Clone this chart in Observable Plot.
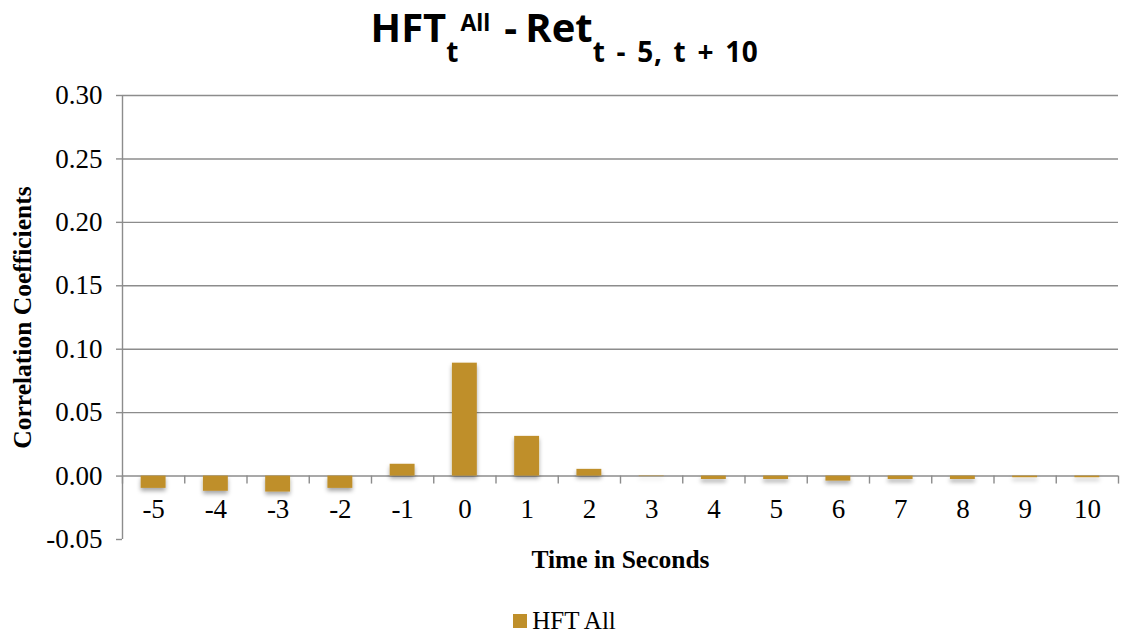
<!DOCTYPE html>
<html>
<head>
<meta charset="utf-8">
<script src="https://cdn.jsdelivr.net/npm/d3@7"></script>
<script src="https://cdn.jsdelivr.net/npm/@observablehq/plot@0.6"></script>
<style>
  html, body { margin: 0; padding: 0; background: #fff; }
  #wrap { width: 1121px; height: 644px; position: relative; overflow: hidden; }
  #title { height: 70px; display: flex; align-items: center; justify-content: center;
    font-family: "Open Sans", sans-serif; font-weight: 700; font-size: 40px; color: #000;
    padding-left: 8px; box-sizing: border-box; line-height: 1; }
  #title .t { position: relative; top: -8px; }
  #title .dash { margin: 0 8px 0 14px; }
  #title sub, #title sup { line-height: 0; position: relative; vertical-align: baseline; }
  #title sub { font-size: 28px; top: 20px; }
  #title sup { font-size: 23px; top: -11px; margin-left: 2px; }
  #title sub.long { word-spacing: 0.12em; letter-spacing: 0.02em; }
  #legend { display: flex; align-items: center; justify-content: center; height: 54px;
    font-family: "Liberation Serif", serif; font-size: 25px; color: #000; padding-left: 8px; padding-top: 8px; box-sizing: border-box; }
  #legend .sw { width: 14px; height: 14px; background: #BF8F2A; margin-right: 5px; }
</style>
</head>
<body>
<div id="wrap">
  <div id="title"><span class="t">HFT<sub>t</sub><sup>All</sup><span class="dash">-</span>Ret<sub class="long">t - 5, t + 10</sub></span></div>
  <div id="chart"></div>
  <div id="legend"><span class="sw"></span><span>HFT All</span></div>
</div>
<script>
const seconds = [-5, -4, -3, -2, -1, 0, 1, 2, 3, 4, 5, 6, 7, 8, 9, 10];
const secondLabels = ["-5", "-4", "-3", "-2", "-1", "0", "1", "2", "3", "4", "5", "6", "7", "8", "9", "10"];
const hftAll = [-0.0097, -0.012, -0.0126, -0.0097, 0.0093, 0.089, 0.0313, 0.0053, -0.0004, -0.0027, -0.0027, -0.004, -0.0027, -0.0027, -0.0013, -0.0013];
const yTicks = [-0.05, 0, 0.05, 0.10, 0.15, 0.20, 0.25, 0.30];
const gridValues = [0, 0.05, 0.10, 0.15, 0.20, 0.25, 0.30];
const boundaries = [-5.5, -4.5, -3.5, -2.5, -1.5, -0.5, 0.5, 1.5, 2.5, 3.5, 4.5, 5.5, 6.5, 7.5, 8.5, 9.5, 10.5];

const data = seconds.map((t, i) => ({t, label: secondLabels[i], value: hftAll[i]}));
const barColor = "#BF8F2A";
const gray = "#8C8C8C";
const halfBar = 0.2;

const svg = Plot.plot({
  width: 1121,
  height: 520,
  marginTop: 25,
  marginBottom: 51,
  marginLeft: 122,
  marginRight: 3,
  style: {fontFamily: "Liberation Serif, serif", color: "#000", background: "#fff", overflow: "visible"},
  x: {type: "linear", domain: [-5.5, 10.5], axis: null},
  y: {domain: [-0.05, 0.30], ticks: yTicks},
  marks: [
    Plot.ruleY(gridValues, {stroke: gray, strokeWidth: 1.4}),
    Plot.ruleX([-5.5], {y1: -0.05, y2: 0.30, stroke: gray, strokeWidth: 1.4}),
    Plot.axisY({ticks: yTicks, tickFormat: d => d.toFixed(2), tickSize: 6, tickPadding: 14,
      fontSize: 27, stroke: gray, strokeWidth: 1.4, label: null}),
    Plot.ruleX(boundaries, {x: d => d, y1: 0, y2: 0, insetBottom: -8, stroke: gray, strokeWidth: 1.4}),
    Plot.rect(data, {x1: d => d.t - halfBar, x2: d => d.t + halfBar, y1: 0, y2: "value", fill: barColor}),
    Plot.text(data, {x: "t", y: 0, text: "label", dy: 33, fontSize: 27}),
    Plot.text(["Correlation Coefficients"], {frameAnchor: "left", textAnchor: "middle", lineAnchor: "middle", rotate: -90, dx: -100, fontSize: 25.5, fontWeight: "bold"}),
    Plot.text(["Time in Seconds"], {frameAnchor: "bottom", lineAnchor: "middle", textAnchor: "middle", dy: 20, fontSize: 25.5, fontWeight: "bold"})
  ]
});

// soft drop shadow under the bars, like the original
const s = d3.select(svg);
const defs = s.insert("defs", ":first-child");
const f = defs.append("filter").attr("id", "barShadow").attr("x", "-30%").attr("y", "-30%").attr("width", "160%").attr("height", "160%");
f.append("feDropShadow").attr("dx", 0).attr("dy", 3).attr("stdDeviation", 2.2).attr("flood-color", "#000").attr("flood-opacity", 0.35);
s.selectAll("g[aria-label='rect']").attr("filter", "url(#barShadow)");

document.getElementById("chart").appendChild(svg);
</script>
</body>
</html>
